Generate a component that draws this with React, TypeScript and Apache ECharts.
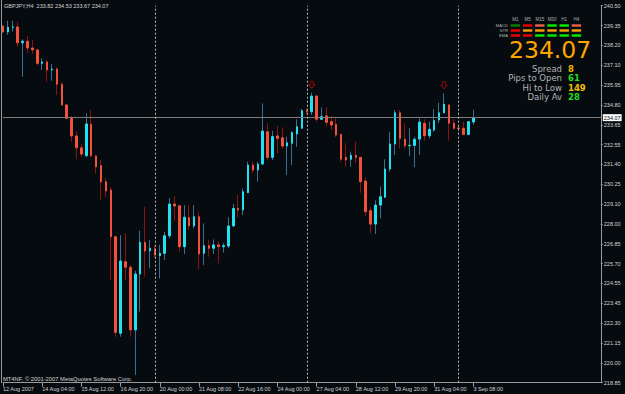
import React, { useEffect, useRef } from 'react';
import * as echarts from 'echarts';

const symbolName = 'GBPJPY';
const timeframe = 'H4';

const opens = [239.33, 238.99, 239.26, 239.28, 238.37, 238.46, 238.07, 237.96, 237.19, 237.27, 236.81, 236.86, 235.99, 234.80, 234.03, 233.02, 232.34, 231.89, 233.69, 231.87, 231.31, 230.39, 229.92, 227.23, 221.69, 225.80, 225.48, 221.88, 225.09, 226.91, 226.43, 226.53, 226.14, 226.28, 227.29, 229.11, 229.01, 226.66, 228.33, 227.85, 228.38, 226.28, 226.72, 226.57, 226.76, 226.66, 226.70, 227.85, 228.86, 228.77, 229.76, 231.35, 231.06, 231.41, 233.26, 231.79, 233.02, 232.92, 232.44, 232.60, 233.13, 233.46, 234.47, 234.41, 235.31, 233.98, 234.17, 233.84, 233.69, 233.11, 231.79, 231.68, 231.91, 231.79, 230.43, 228.73, 227.96, 229.05, 229.50, 231.12, 232.56, 234.35, 232.83, 232.46, 232.48, 232.84, 233.75, 233.03, 233.36, 233.94, 234.35, 234.80, 233.75, 233.48, 233.46, 233.11, 233.82];
const closes = [238.99, 239.26, 239.28, 238.37, 238.46, 238.07, 237.96, 237.19, 237.27, 236.81, 236.86, 235.99, 234.80, 234.03, 233.02, 232.34, 231.98, 233.71, 231.89, 231.25, 230.39, 229.86, 227.23, 221.74, 225.84, 225.48, 221.88, 225.09, 226.91, 226.41, 226.57, 226.18, 226.28, 227.29, 229.11, 229.00, 226.66, 228.35, 227.85, 228.38, 226.24, 226.72, 226.57, 226.76, 226.66, 226.72, 227.85, 228.86, 228.77, 229.82, 231.35, 231.06, 231.41, 233.30, 231.79, 232.98, 232.88, 232.44, 232.63, 233.21, 233.55, 234.47, 234.42, 235.31, 233.98, 234.13, 233.80, 233.65, 233.07, 231.68, 231.64, 231.91, 231.79, 230.39, 228.67, 227.96, 229.05, 229.53, 231.12, 232.56, 234.35, 232.88, 232.46, 232.48, 232.83, 233.82, 233.03, 233.40, 233.90, 234.35, 234.84, 233.75, 233.46, 233.45, 233.11, 233.84, 234.07];
const lows = [238.93, 238.83, 239.01, 238.15, 236.42, 237.80, 237.73, 237.09, 236.81, 236.14, 236.19, 235.37, 234.74, 233.99, 232.69, 231.68, 231.83, 231.79, 231.81, 230.87, 229.34, 229.51, 224.75, 221.49, 221.49, 224.75, 221.49, 219.29, 222.93, 224.94, 225.42, 226.01, 224.84, 225.90, 227.14, 228.15, 226.37, 226.24, 227.62, 227.72, 225.36, 225.61, 226.09, 226.24, 225.71, 226.32, 226.57, 227.81, 228.35, 228.48, 229.74, 230.87, 230.39, 231.35, 231.64, 231.64, 232.02, 232.31, 230.78, 231.35, 232.40, 233.42, 234.22, 234.22, 233.84, 233.94, 233.55, 233.36, 232.96, 231.54, 231.25, 231.25, 231.47, 229.76, 228.42, 227.43, 227.39, 228.29, 229.46, 230.97, 231.93, 232.31, 232.31, 231.87, 231.22, 231.93, 232.75, 232.88, 233.26, 233.75, 234.32, 232.75, 233.36, 233.36, 233.07, 233.07, 233.67];
const highs = [239.39, 239.64, 239.64, 239.56, 238.57, 238.76, 238.53, 238.01, 237.48, 237.38, 237.15, 236.98, 236.12, 234.85, 234.17, 233.26, 232.56, 234.32, 234.51, 231.93, 231.64, 230.60, 230.11, 227.27, 227.33, 227.43, 225.61, 225.28, 227.58, 228.96, 227.04, 226.76, 226.76, 227.52, 229.44, 229.57, 229.05, 229.05, 229.05, 229.05, 228.67, 228.00, 227.04, 227.08, 226.95, 226.87, 228.35, 229.11, 229.63, 230.01, 231.54, 231.54, 231.54, 234.89, 233.75, 233.32, 233.61, 233.52, 232.98, 233.30, 233.98, 234.57, 234.62, 235.50, 235.37, 234.66, 234.66, 234.17, 234.03, 233.13, 232.60, 232.12, 232.69, 231.81, 230.65, 228.94, 229.32, 230.11, 231.68, 233.26, 234.51, 234.51, 233.75, 233.46, 232.98, 234.03, 233.98, 233.84, 234.55, 234.93, 235.47, 234.85, 233.98, 233.65, 233.84, 233.88, 234.53];

const xTickLabels = ['12 Aug 2007', '14 Aug 04:00', '15 Aug 12:00', '16 Aug 20:00', '20 Aug 00:00', '21 Aug 08:00', '22 Aug 16:00', '24 Aug 00:00', '27 Aug 04:00', '28 Aug 12:00', '29 Aug 20:00', '31 Aug 04:00', '3 Sep 08:00'];
const barsPerXLabel = 8;
const totalSlots = 123;
const weekSeparators = [31, 62, 93];
const fractalUp = [63, 90];

const priceTicks = ['218.85', '220.00', '221.15', '222.30', '223.45', '224.55', '225.70', '226.85', '228.00', '229.10', '230.25', '231.40', '232.55', '233.65', '234.80', '235.95', '237.10', '238.20', '239.35', '240.50'];
const priceMin = 218.85;
const priceMax = 240.5;
const bidPrice = 234.07;

const timeframes = ['M1', 'M5', 'M15', 'M30', 'H1', 'H4'];
const indicators = ['MACD', 'STR', 'EMA'];
const signals = [
  ['u', 'D', 'd', 'U', 'U', 'd'],
  ['D', 'N', 'N', 'N', 'N', 'N'],
  ['D', 'D', 'U', 'U', 'U', 'U'],
];
const infoLabels = ['Spread', 'Pips to Open', 'Hi to Low', 'Daily Av'];
const infoValues = [8, 61, 149, 28];

// ---- styles ----
const BG = '#060b0f';
const AXIS = '#9a9a9a';
const TXT = '#d4d4d4';
const UP_BODY = '#22e0f0';
const DOWN_BODY = '#f2523b';
const UP_WICK = '#3a6f94';
const DOWN_WICK = '#8e1212';
const FONT = 'Liberation Sans, Arial, sans-serif';
const INFO_FONT = 'DejaVu Sans, sans-serif';
const signalColors: Record<string, string> = { U: '#00ee00', u: '#0a7a0a', D: '#ee0000', d: '#f06048', N: '#ffa000' };
const infoValueColors = ['#f5b400', '#22dd22', '#f0c000', '#22dd22'];

function buildOption() {
  const n = opens.length;
  const candles = opens.map((o, i) => [o, closes[i], lows[i], highs[i]]);
  const bodies = opens.map((o, i) => [o, closes[i], Math.min(o, closes[i]), Math.max(o, closes[i])]);
  const slots = Array.from({ length: totalSlots }, (_, i) => 's' + i);
  const labelAt = (idx: number) => idx % barsPerXLabel === 0 && idx / barsPerXLabel < xTickLabels.length;
  const last = n - 1;
  const fmt = (v: number) => v.toFixed(2);

  const graphics: any[] = [];
  graphics.push({ type: 'line', shape: { x1: 1.5, y1: 0, x2: 1.5, y2: 383 }, style: { stroke: AXIS, lineWidth: 1 }, silent: true });
  graphics.push({
    type: 'text', x: 4, y: 6, silent: true,
    style: { text: `${symbolName},${timeframe}  ${fmt(opens[last])} ${fmt(highs[last])} ${fmt(lows[last])} ${fmt(closes[last])}`, fill: TXT, fontSize: 5.5, fontFamily: FONT, verticalAlign: 'middle' },
  });
  graphics.push({
    type: 'text', x: 3, y: 378.5, silent: true,
    style: { text: 'MT4NF, © 2001-2007 MetaQuotes Software Corp.', fill: TXT, fontSize: 5.8, fontFamily: FONT, verticalAlign: 'middle' },
  });
  // signal matrix
  const px = 510.7, py = 24.3, cStep = 12.2, rStep = 5, bw = 9.4, bh = 2.4;
  timeframes.forEach((tf, c) => {
    graphics.push({ type: 'text', x: px + c * cStep + bw / 2, y: 19.5, silent: true, style: { text: tf, fill: '#b0b0b0', fontSize: 4.5, fontFamily: FONT, align: 'center', verticalAlign: 'middle' } });
  });
  indicators.forEach((name, r) => {
    graphics.push({ type: 'text', x: 508, y: py + r * rStep + bh / 2, silent: true, style: { text: name, fill: '#b0b0b0', fontSize: 4.2, lineHeight: 4.4, fontFamily: FONT, align: 'right', verticalAlign: 'middle' } });
    signals[r].forEach((s, c) => {
      graphics.push({ type: 'rect', silent: true, shape: { x: px + c * cStep, y: py + r * rStep, width: bw, height: bh }, style: { fill: signalColors[s] } });
    });
  });
  graphics.push({ type: 'text', x: 509, y: 50, silent: true, style: { text: fmt(closes[last]), fill: '#ffa500', fontSize: 23.5, fontFamily: 'DejaVu Sans, sans-serif', verticalAlign: 'middle' } });
  infoLabels.forEach((lab, k) => {
    const y = 68.8 + k * 9.4;
    graphics.push({ type: 'text', x: 562, y, silent: true, style: { text: lab, fill: '#b4b4b4', fontSize: 8.5, lineHeight: 8.6, fontFamily: INFO_FONT, align: 'right', verticalAlign: 'middle' } });
    graphics.push({ type: 'text', x: 568, y, silent: true, style: { text: String(infoValues[k]), fill: infoValueColors[k], fontSize: 8.5, lineHeight: 8.6, fontFamily: INFO_FONT, fontWeight: 'bold', align: 'left', verticalAlign: 'middle' } });
  });

  return {
    animation: false,
    backgroundColor: BG,
    grid: { left: 2.3, right: 24.2, top: 5.7, bottom: 11.3, containLabel: false },
    xAxis: {
      type: 'category', data: slots, boundaryGap: false,
      axisLine: { show: true, lineStyle: { color: AXIS, width: 1 } },
      axisTick: { show: true, interval: (idx: number) => labelAt(idx), length: 4, lineStyle: { color: AXIS } },
      axisLabel: {
        interval: (idx: number) => labelAt(idx),
        formatter: (_v: string, idx: number) => (labelAt(idx) ? xTickLabels[idx / barsPerXLabel] : ''),
        align: 'left', color: TXT, fontSize: 5.5, fontFamily: FONT, margin: 3,
      },
      splitLine: { show: false },
    },
    yAxis: [
      {
        type: 'value', min: priceMin, max: priceMax, position: 'right', scale: true,
        axisLine: { show: true, lineStyle: { color: AXIS } },
        axisTick: { show: false }, axisLabel: { show: false }, splitLine: { show: false },
      },
      {
        type: 'value', min: 0, max: priceTicks.length - 1, interval: 1, position: 'right', offset: 0,
        axisLine: { show: false },
        axisTick: { show: true, length: 2, lineStyle: { color: AXIS } },
        axisLabel: { formatter: (v: number) => priceTicks[Math.round(v)] ?? '', color: TXT, fontSize: 5.5, fontFamily: FONT, margin: 3 },
        splitLine: { show: false },
      },
    ],
    series: [
      {
        type: 'candlestick', name: 'wick', data: candles, xAxisIndex: 0, yAxisIndex: 0, barWidth: 1,
        itemStyle: { color: UP_WICK, color0: DOWN_WICK, borderColor: UP_WICK, borderColor0: DOWN_WICK, borderWidth: 1 },
        markLine: {
          silent: true, symbol: ['none', 'none'], animation: false,
          data: [
            { yAxis: bidPrice, lineStyle: { color: '#7c7c7c', width: 1, type: 'solid' },
              label: { show: true, position: 'end', formatter: fmt(bidPrice), color: '#000', backgroundColor: '#ffffff', fontSize: 5.5, fontFamily: FONT, padding: [1, 1, 0, 1], distance: 2 } },
            ...weekSeparators.map((i) => ({ xAxis: i, lineStyle: { color: '#b8b8b8', width: 1, type: [2, 2] }, label: { show: false } })),
          ],
        },
      },
      {
        type: 'candlestick', name: 'body', data: bodies, xAxisIndex: 0, yAxisIndex: 0, barWidth: 2,
        itemStyle: { color: UP_BODY, color0: DOWN_BODY, borderColor: UP_BODY, borderColor0: DOWN_BODY, borderWidth: 1 },
      },
      {
        type: 'scatter', name: 'fractal', xAxisIndex: 0, yAxisIndex: 0,
        data: fractalUp.map((i) => [i, highs[i]]),
        symbol: 'path://M2,0 L6,0 L6,4 L8,4 L4,8 L0,4 L2,4 Z', symbolSize: [6, 7], symbolOffset: [0, -8],
        itemStyle: { color: 'rgba(0,0,0,0)', borderColor: '#b00808', borderWidth: 1 },
      },
    ],
    graphic: graphics,
  };
}

export default function App() {
  const ref = useRef<HTMLDivElement>(null);
  useEffect(() => {
    document.body.style.margin = '0';
    document.body.style.background = BG;
    const chart = echarts.init(ref.current!, null, { renderer: 'svg' });
    chart.setOption(buildOption() as any);
    return () => chart.dispose();
  }, []);
  return <div ref={ref} style={{ width: 625, height: 394, background: BG }} />;
}
